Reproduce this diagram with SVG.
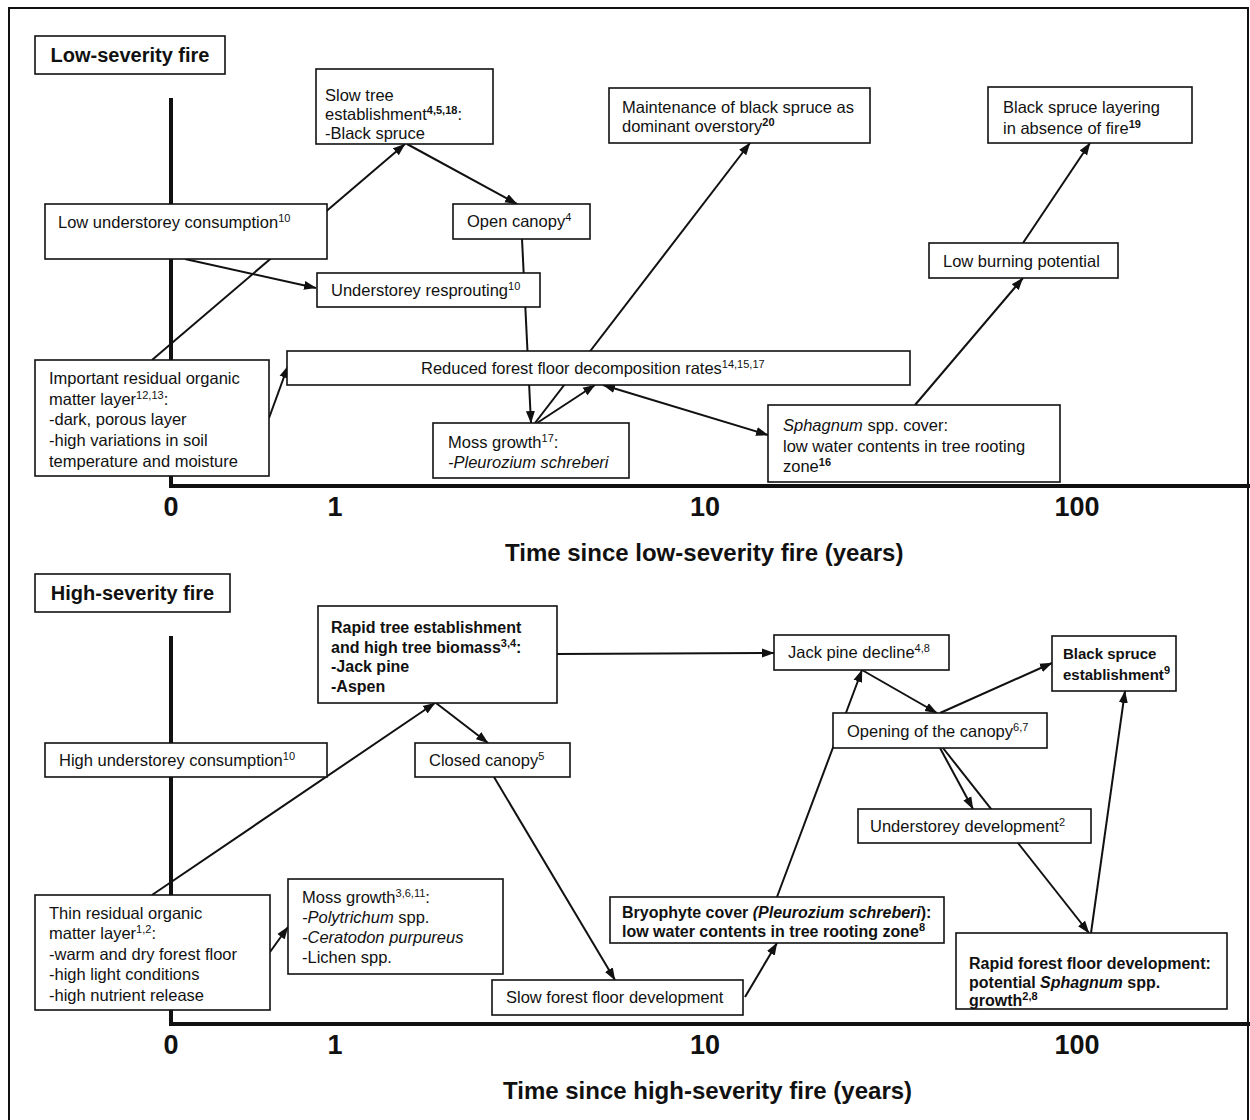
<svg xmlns="http://www.w3.org/2000/svg" width="1250" height="1120" viewBox="0 0 1250 1120">
<style>
text{font-family:"Liberation Sans",Arial,sans-serif;font-size:16.5px;fill:#111}
.b{font-weight:bold}
.bb{font-weight:bold;font-size:16px}
.bs{font-weight:bold;font-size:15px}
.i{font-style:italic}
.sup{font-size:11px}
.title{font-size:20px;font-weight:bold}
.digit{font-size:27px;font-weight:bold;text-anchor:middle}
.axt{font-size:24px;font-weight:bold}
.box{fill:#fff;stroke:#111;stroke-width:1.6}
.c{fill:none;stroke:#111;stroke-width:2}
.ax{fill:none;stroke:#111;stroke-width:4}
</style>
<defs>
<marker id="ah" markerUnits="userSpaceOnUse" markerWidth="13" markerHeight="10" refX="12" refY="5" orient="auto-start-reverse">
<path d="M0,0.5 L12.5,5 L0,9.5 z" fill="#111"/>
</marker>
</defs>
<rect x="0" y="0" width="1250" height="1120" fill="#fff"/>
<rect x="9" y="8" width="1239" height="1114" fill="none" stroke="#111" stroke-width="2"/>
<g id="axes">
<polyline class="ax" points="171,98 171,486 1250,486"/>
<polyline class="ax" points="171,636 171,1024 1250,1024"/>
<text class="digit" x="171" y="516">0</text>
<text class="digit" x="335" y="516">1</text>
<text class="digit" x="705" y="516">10</text>
<text class="digit" x="1077" y="516">100</text>
<text class="axt" x="505" y="561">Time since low-severity fire (years)</text>
<text class="digit" x="171" y="1054">0</text>
<text class="digit" x="335" y="1054">1</text>
<text class="digit" x="705" y="1054">10</text>
<text class="digit" x="1077" y="1054">100</text>
<text class="axt" x="503" y="1099">Time since high-severity fire (years)</text>
</g>
<g id="connectors">
<line class="c" x1="152" y1="360" x2="405" y2="144" marker-end="url(#ah)"/>
<line class="c" x1="185" y1="259" x2="316" y2="288" marker-end="url(#ah)"/>
<line class="c" x1="407" y1="144" x2="517" y2="204" marker-end="url(#ah)"/>
<line class="c" x1="269" y1="418" x2="288" y2="366" marker-end="url(#ah)"/>
<line class="c" x1="522" y1="239" x2="531" y2="423" marker-end="url(#ah)"/>
<line class="c" x1="535" y1="423" x2="750" y2="143" marker-end="url(#ah)"/>
<line class="c" x1="537" y1="423" x2="595" y2="385" marker-end="url(#ah)"/>
<line class="c" x1="603" y1="385" x2="768" y2="435" marker-start="url(#ah)" marker-end="url(#ah)"/>
<line class="c" x1="915" y1="405" x2="1023" y2="278" marker-end="url(#ah)"/>
<line class="c" x1="1023" y1="243" x2="1090" y2="143" marker-end="url(#ah)"/>
<line class="c" x1="152" y1="895" x2="435" y2="703" marker-end="url(#ah)"/>
<line class="c" x1="270" y1="952" x2="288" y2="927" marker-end="url(#ah)"/>
<line class="c" x1="436" y1="703" x2="488" y2="743" marker-end="url(#ah)"/>
<line class="c" x1="557" y1="654" x2="774" y2="653" marker-end="url(#ah)"/>
<line class="c" x1="494" y1="777" x2="615" y2="980" marker-end="url(#ah)"/>
<line class="c" x1="745" y1="997" x2="777" y2="943" marker-end="url(#ah)"/>
<line class="c" x1="777" y1="897" x2="862" y2="670" marker-end="url(#ah)"/>
<line class="c" x1="862" y1="670" x2="937" y2="713" marker-end="url(#ah)"/>
<line class="c" x1="940" y1="713" x2="1052" y2="663" marker-end="url(#ah)"/>
<line class="c" x1="940" y1="748" x2="973" y2="809" marker-end="url(#ah)"/>
<line class="c" x1="943" y1="748" x2="1089" y2="933" marker-end="url(#ah)"/>
<line class="c" x1="1091" y1="933" x2="1125" y2="691" marker-end="url(#ah)"/>
</g>
<g id="n-low-title"><rect class="box" x="35" y="36" width="190" height="38"/><text class="title" x="130" y="62" text-anchor="middle">Low-severity fire</text></g>
<g id="n-slow-tree"><rect class="box" x="316" y="69" width="177" height="75"/>
<text x="325" y="101">Slow tree</text>
<text x="325" y="120">establishment<tspan class="sup b" dy="-6">4,5,18</tspan><tspan dy="6">:</tspan></text>
<text x="325" y="139">-Black spruce</text></g>
<g id="n-maint"><rect class="box" x="609" y="88" width="261" height="55"/>
<text x="622" y="113">Maintenance of black spruce as</text>
<text x="622" y="132">dominant overstory<tspan class="sup b" dy="-6">20</tspan></text></g>
<g id="n-layering"><rect class="box" x="988" y="87" width="204" height="56"/>
<text x="1003" y="113">Black spruce layering</text>
<text x="1003" y="134">in absence of fire<tspan class="sup b" dy="-6">19</tspan></text></g>
<g id="n-low-under"><rect class="box" x="45" y="204" width="282" height="55"/>
<text x="58" y="228">Low understorey consumption<tspan class="sup" dy="-6">10</tspan></text></g>
<g id="n-open"><rect class="box" x="453" y="204" width="137" height="35"/>
<text x="467" y="227">Open canopy<tspan class="sup" dy="-6">4</tspan></text></g>
<g id="n-resprout"><rect class="box" x="317" y="273" width="223" height="34"/>
<text x="331" y="296">Understorey resprouting<tspan class="sup" dy="-6">10</tspan></text></g>
<g id="n-lowburn"><rect class="box" x="929" y="243" width="189" height="35"/>
<text x="943" y="267">Low burning potential</text></g>
<g id="n-important"><rect class="box" x="35" y="360" width="234" height="116"/>
<text x="49" y="384">Important residual organic</text>
<text x="49" y="405">matter layer<tspan class="sup" dy="-6">12,13</tspan><tspan dy="6">:</tspan></text>
<text x="49" y="425">-dark, porous layer</text>
<text x="49" y="446">-high variations in soil</text>
<text x="49" y="467">temperature and moisture</text></g>
<g id="n-reduced"><rect class="box" x="287" y="351" width="623" height="34"/>
<text x="421" y="374">Reduced forest floor decomposition rates<tspan class="sup" dy="-6">14,15,17</tspan></text></g>
<g id="n-moss1"><rect class="box" x="433" y="423" width="196" height="55"/>
<text x="448" y="448">Moss growth<tspan class="sup" dy="-6">17</tspan><tspan dy="6">:</tspan></text>
<text x="448" y="468" class="i">-Pleurozium schreberi</text></g>
<g id="n-sphagnum"><rect class="box" x="768" y="405" width="292" height="77"/>
<text x="783" y="431"><tspan class="i">Sphagnum</tspan> spp. cover:</text>
<text x="783" y="452">low water contents in tree rooting</text>
<text x="783" y="472">zone<tspan class="sup b" dy="-6">16</tspan></text></g>
<g id="n-high-title"><rect class="box" x="35" y="574" width="195" height="38"/><text class="title" x="132.5" y="600" text-anchor="middle">High-severity fire</text></g>
<g id="n-rapid-tree"><rect class="box" x="318" y="606" width="239" height="97"/>
<text class="bb" x="331" y="633">Rapid tree establishment</text>
<text class="bb" x="331" y="653">and high tree biomass<tspan class="sup" dy="-6">3,4</tspan><tspan dy="6">:</tspan></text>
<text class="bb" x="331" y="672">-Jack pine</text>
<text class="bb" x="331" y="692">-Aspen</text></g>
<g id="n-jack-decline"><rect class="box" x="774" y="635" width="175" height="35"/>
<text x="788" y="658">Jack pine decline<tspan class="sup" dy="-6">4,8</tspan></text></g>
<g id="n-bs-estab"><rect class="box" x="1052" y="636" width="124" height="55"/>
<text class="bs" x="1063" y="659">Black spruce</text>
<text class="bs" x="1063" y="680">establishment<tspan class="sup" dy="-6">9</tspan></text></g>
<g id="n-opening"><rect class="box" x="833" y="713" width="214" height="35"/>
<text x="847" y="737">Opening of the canopy<tspan class="sup" dy="-6">6,7</tspan></text></g>
<g id="n-high-under"><rect class="box" x="45" y="743" width="282" height="34"/>
<text x="59" y="766">High understorey consumption<tspan class="sup" dy="-6">10</tspan></text></g>
<g id="n-closed"><rect class="box" x="415" y="743" width="155" height="34"/>
<text x="429" y="766">Closed canopy<tspan class="sup" dy="-6">5</tspan></text></g>
<g id="n-under-dev"><rect class="box" x="858" y="809" width="233" height="34"/>
<text x="870" y="832">Understorey development<tspan class="sup" dy="-6">2</tspan></text></g>
<g id="n-moss2"><rect class="box" x="288" y="879" width="215" height="95"/>
<text x="302" y="903">Moss growth<tspan class="sup" dy="-6">3,6,11</tspan><tspan dy="6">:</tspan></text>
<text x="302" y="923"><tspan class="i">-Polytrichum</tspan> spp.</text>
<text x="302" y="943" class="i">-Ceratodon purpureus</text>
<text x="302" y="963">-Lichen spp.</text></g>
<g id="n-thin"><rect class="box" x="35" y="895" width="235" height="115"/>
<text x="49" y="919">Thin residual organic</text>
<text x="49" y="939">matter layer<tspan class="sup" dy="-6">1,2</tspan><tspan dy="6">:</tspan></text>
<text x="49" y="960">-warm and dry forest floor</text>
<text x="49" y="980">-high light conditions</text>
<text x="49" y="1001">-high nutrient release</text></g>
<g id="n-bryo"><rect class="box" x="610" y="897" width="334" height="46"/>
<text class="bb" x="622" y="918">Bryophyte cover <tspan class="i">(Pleurozium schreberi</tspan>):</text>
<text class="bb" x="622" y="937">low water contents in tree rooting zone<tspan class="sup" dy="-6">8</tspan></text></g>
<g id="n-slow-floor"><rect class="box" x="492" y="980" width="251" height="35"/>
<text x="506" y="1003">Slow forest floor development</text></g>
<g id="n-rapid-floor"><rect class="box" x="956" y="933" width="271" height="76"/>
<text class="bb" x="969" y="969">Rapid forest floor development:</text>
<text class="bb" x="969" y="988">potential <tspan class="i">Sphagnum</tspan> spp.</text>
<text class="bb" x="969" y="1006">growth<tspan class="sup" dy="-6">2,8</tspan></text></g>
</svg>
